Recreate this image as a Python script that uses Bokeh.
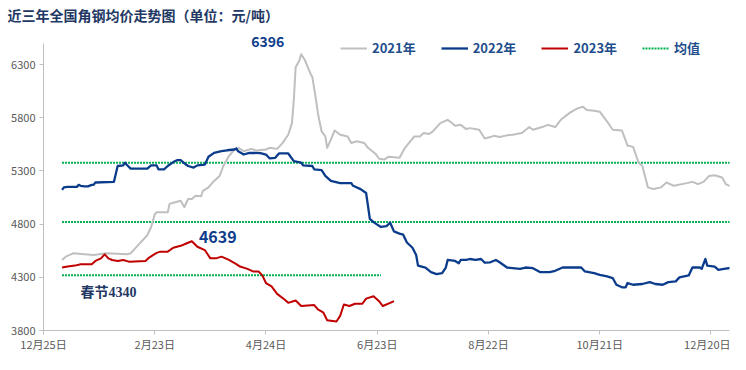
from bokeh.plotting import figure
from bokeh.models import Range1d, FixedTicker, Label, Legend, LegendItem
from bokeh.embed import file_html
from bokeh.resources import INLINE

title_text = "近三年全国角钢均价走势图（单位：元/吨）"
series_names = ["2021年", "2022年", "2023年"]
mean_name = "均值"

# x values: days counted from 12月25日
tick_days = [0, 60, 120, 180, 240, 300, 360]
tick_labels = ["12月25日", "2月23日", "4月24日", "6月23日", "8月22日", "10月21日", "12月20日"]
y_ticks = [3800, 4300, 4800, 5300, 5800, 6300]

days_2021 = [10, 12, 16, 22, 27, 34, 45, 47, 51, 56, 58, 60, 61, 67, 68, 71, 74, 76, 78, 80,
             82, 85, 86, 89, 92, 95, 97, 100, 103, 105, 108, 112, 115, 120, 122, 126, 129, 132,
             134, 135, 136, 138, 139, 141, 144, 145, 147, 148, 150, 152, 153, 155, 157, 160, 164,
             166, 169, 173, 175, 179, 181, 184, 186, 192, 195, 200, 203, 205, 208, 210, 214, 218,
             220, 222, 225, 228, 230, 235, 238, 241, 243, 246, 250, 253, 258, 262, 264, 269, 272,
             276, 279, 284, 288, 291, 293, 297, 300, 304, 307, 312, 315, 318, 321, 323, 326, 329,
             333, 336, 340, 347, 350, 353, 356, 359, 362, 366, 368, 371]
price_2021 = [4463, 4494, 4525, 4516, 4509, 4525, 4516, 4525, 4602, 4695, 4770, 4890, 4912, 4912,
              4990, 5005, 5020, 4959, 5036, 5036, 5067, 5061, 5113, 5145, 5206, 5253, 5346, 5439,
              5501, 5517, 5485, 5507, 5491, 5501, 5517, 5507, 5563, 5640, 5749, 5966, 6275, 6337,
              6396, 6340, 6214, 6182, 5966, 5842, 5671, 5624, 5517, 5594, 5680, 5640, 5624, 5563,
              5578, 5563, 5517, 5462, 5414, 5408, 5433, 5423, 5517, 5624, 5624, 5656, 5647, 5671,
              5749, 5780, 5755, 5724, 5733, 5693, 5702, 5687, 5605, 5618, 5631, 5618, 5634, 5640,
              5656, 5712, 5687, 5712, 5733, 5712, 5780, 5848, 5888, 5903, 5873, 5866, 5857, 5764,
              5687, 5680, 5538, 5526, 5377, 5346, 5145, 5129, 5145, 5191, 5160, 5185, 5197, 5176,
              5197, 5253, 5259, 5238, 5176, 5150]

days_2022 = [10, 11, 13, 18, 19, 20, 22, 24, 26, 27, 28, 38, 40, 43, 44, 45, 47, 56, 58, 61, 62,
             65, 67, 70, 72, 74, 76, 78, 81, 83, 87, 89, 92, 96, 99, 103, 104, 105, 108, 111, 117,
             120, 122, 125, 127, 132, 135, 139, 140, 145, 146, 150, 152, 155, 160, 166, 167, 171,
             174, 175, 176, 178, 180, 182, 185, 187, 189, 192, 194, 196, 199, 201, 202, 206, 209,
             212, 215, 217, 218, 222, 224, 225, 228, 230, 233, 236, 238, 241, 244, 246, 250, 253,
             257, 260, 264, 268, 273, 276, 280, 290, 292, 297, 300, 304, 307, 309, 312, 314, 315,
             318, 323, 327, 330, 334, 337, 341, 343, 348, 350, 354, 355, 357, 358, 362, 364, 367, 372]
price_2022 = [5122, 5145, 5150, 5150, 5169, 5160, 5155, 5155, 5169, 5169, 5191, 5197, 5346, 5352,
              5377, 5355, 5321, 5321, 5352, 5352, 5315, 5315, 5346, 5383, 5401, 5401, 5371, 5346,
              5331, 5352, 5359, 5433, 5470, 5485, 5494, 5501, 5510, 5485, 5454, 5470, 5467, 5454,
              5417, 5423, 5464, 5464, 5392, 5377, 5352, 5346, 5315, 5308, 5253, 5206, 5185, 5185,
              5160, 5129, 5092, 4974, 4850, 4819, 4795, 4773, 4782, 4813, 4732, 4711, 4701, 4627,
              4578, 4509, 4410, 4392, 4348, 4330, 4339, 4392, 4463, 4454, 4432, 4463, 4463, 4472,
              4463, 4472, 4437, 4441, 4463, 4441, 4392, 4386, 4379, 4392, 4386, 4348, 4348, 4361,
              4392, 4392, 4355, 4339, 4323, 4308, 4293, 4230, 4206, 4206, 4246, 4230, 4237, 4255,
              4237, 4230, 4255, 4262, 4299, 4318, 4392, 4392, 4379, 4472, 4410, 4401, 4370, 4379, 4392]

days_2023 = [10, 13, 17, 20, 26, 28, 31, 33, 35, 37, 40, 43, 46, 55, 57, 61, 63, 67, 70, 74, 77,
             80, 83, 87, 90, 93, 96, 100, 104, 106, 110, 113, 116, 118, 120, 123, 126, 130, 132,
             136, 139, 146, 148, 151, 153, 158, 160, 162, 165, 168, 172, 174, 178, 181, 183, 187, 189]
price_2023 = [4392, 4401, 4410, 4423, 4423, 4454, 4478, 4516, 4478, 4463, 4454, 4463, 4447, 4454,
              4485, 4530, 4541, 4541, 4578, 4596, 4618, 4639, 4587, 4556, 4478, 4478, 4494, 4463,
              4423, 4401, 4379, 4355, 4355, 4318, 4246, 4215, 4144, 4091, 4060, 4082, 4030, 4039,
              3998, 3967, 3896, 3884, 3937, 4045, 4030, 4051, 4051, 4100, 4122, 4076, 4030, 4060, 4076]

mean_values = [5377, 4820, 4320]
mean_start_days = [10, 10, 10]
mean_end_days = [371, 372, 182]

peak_2021_text = "6396"
peak_2023_text = "4639"
spring_text = "春节4340"

line_colors = ["#BFBFBF", "#0B3C8C", "#C00000"]
mean_color = "#00B050"
label_blue = "#1F4E8C"
navy = "#1F3864"
cjk = "Noto Sans CJK SC"

p = figure(width=730, height=354, output_backend="svg", toolbar_location=None,
           x_range=Range1d(0, 370), y_range=Range1d(3800, 6676),
           min_border_left=43, min_border_right=1, min_border_top=24, min_border_bottom=20)
p.outline_line_color = None
p.grid.visible = False
p.background_fill_color = "white"

p.title.text = title_text
p.title.text_font = cjk
p.title.text_font_style = "bold"
p.title.text_font_size = "14px"
p.title.text_color = navy
p.title.align = "left"
p.title.offset = -36
p.title.standoff = 0

mean_renderers = []
for mv, s, e in zip(mean_values, mean_start_days, mean_end_days):
    r = p.line([s, e], [mv, mv], line_color=mean_color, line_width=2, line_dash="2 1")
    mean_renderers.append(r)

r21 = p.line(days_2021, price_2021, line_color=line_colors[0], line_width=2, line_join="round")
r22 = p.line(days_2022, price_2022, line_color=line_colors[1], line_width=2.3, line_join="round")
r23 = p.line(days_2023, price_2023, line_color=line_colors[2], line_width=2, line_join="round")

# axes
p.xaxis.ticker = FixedTicker(ticks=tick_days)
p.xaxis.major_label_overrides = {d: t for d, t in zip(tick_days, tick_labels)}
p.yaxis.ticker = FixedTicker(ticks=y_ticks)
p.yaxis.bounds = (3800, 6500)
for ax in (p.xaxis[0], p.yaxis[0]):
    ax.axis_line_color = "#BFBFBF"
    ax.major_tick_line_color = "#BFBFBF"
    ax.minor_tick_line_color = None
    ax.major_tick_in = 0
    ax.major_tick_out = 4
    ax.major_label_text_color = "#595959"
    ax.major_label_text_font = cjk
    ax.major_label_text_font_size = "11px"
p.yaxis.major_label_standoff = 4
p.xaxis.major_label_standoff = 1

legend = Legend(items=[LegendItem(label=series_names[0], renderers=[r21]),
                       LegendItem(label=series_names[1], renderers=[r22]),
                       LegendItem(label=series_names[2], renderers=[r23]),
                       LegendItem(label=mean_name, renderers=[mean_renderers[0]])],
                location=(297, 273), orientation="horizontal",
                glyph_width=27, glyph_height=16, label_height=16, label_standoff=5, spacing=25,
                padding=0, margin=0, border_line_alpha=0, background_fill_alpha=0,
                label_text_font=cjk, label_text_font_style="bold",
                label_text_font_size="13px", label_text_color=label_blue)
p.add_layout(legend)

p.add_layout(Label(x=121, y=6519, text=peak_2021_text, text_font=cjk, text_font_style="bold",
                   text_font_size="14px", text_color="#0E3D8B", text_align="center",
                   text_baseline="middle"))
p.add_layout(Label(x=94, y=4675, text=peak_2023_text, text_font=cjk, text_font_style="bold",
                   text_font_size="16px", text_color="#0E3D8B", text_align="center",
                   text_baseline="middle"))
p.add_layout(Label(x=35, y=4154, text=spring_text,
                   text_font="'Liberation Serif', 'Noto Sans CJK SC'", text_font_style="bold",
                   text_font_size="14px", text_color=navy, text_align="center",
                   text_baseline="middle"))

open("out.html", "w").write(file_html(p, INLINE))
